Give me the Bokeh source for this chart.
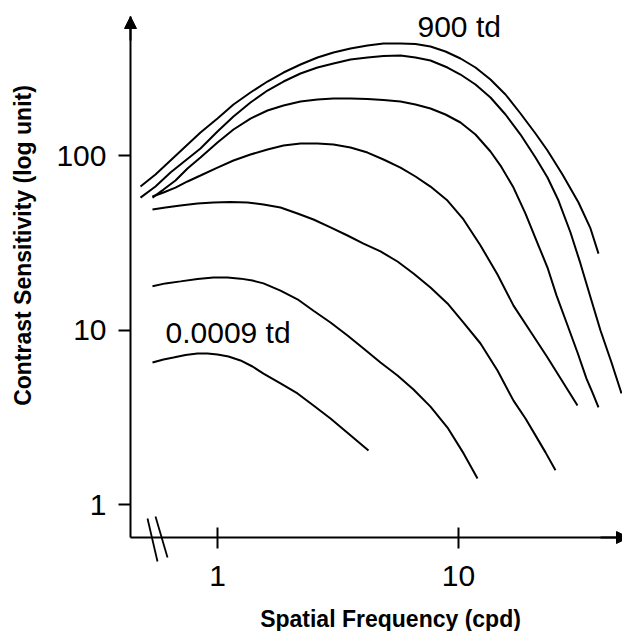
import math

from bokeh.embed import file_html
from bokeh.models import Arrow, FixedTicker, Label, NormalHead, PrintfTickFormatter, Range1d
from bokeh.plotting import figure
from bokeh.resources import INLINE

# Contrast sensitivity functions at several retinal illuminances (top curve 900 td,
# bottom curve 0.0009 td).  Spatial frequency in cycles/degree.
freq_a = [0.4792, 0.5530, 0.6383, 0.7365, 0.8501, 1.0, 1.1652, 1.3705, 1.6124, 1.8790,
          2.2103, 2.5998, 3.0293, 3.5640, 4.1925, 4.8848, 5.7459, 6.6306, 7.6520, 8.8319,
          10.193, 11.764, 13.575, 15.668, 18.082, 20.866, 23.405, 27.010, 31.471, 35.295, 38.098]
cs_a = [66.4, 77.8, 93.6, 112.6, 135.5, 162.9, 196.0, 229.7, 265.5, 299.0,
        332.3, 364.5, 389.2, 410.4, 427.0, 438.4, 438.4, 435.5, 421.4, 394.4,
        359.7, 319.4, 272.6, 223.7, 174.1, 133.7, 106.8, 77.8, 53.8, 38.2, 27.4]

freq_b = [0.4792, 0.5530, 0.6383, 0.7365, 0.8501, 1.0, 1.1652, 1.3705, 1.6124, 1.8790,
          2.2103, 2.5998, 3.0293, 3.5640, 4.1925, 4.8848, 5.7459, 6.6306, 7.6520, 9.0023,
          10.193, 11.764, 13.575, 15.668, 18.082, 20.866, 23.405, 25.997, 29.155, 32.078,
          35.295, 38.833, 43.140, 47.468]
cs_b = [57.4, 66.4, 79.9, 93.6, 109.7, 137.3, 167.3, 201.2, 235.8, 265.5,
        295.1, 319.4, 336.8, 355.0, 364.5, 371.7, 374.2, 364.5, 350.4, 319.4,
        291.2, 255.3, 215.0, 171.8, 131.9, 97.4, 74.8, 55.2, 36.2, 24.0,
        15.4, 9.93, 6.51, 4.33]

freq_c = [0.5374, 0.5970, 0.6695, 0.7508, 0.8501, 1.0, 1.1652, 1.3705, 1.6124, 1.8790,
          2.2103, 2.5998, 3.0293, 3.5640, 4.1925, 4.8848, 5.7459, 6.6306, 7.6520, 8.8319,
          10.193, 11.764, 13.575, 14.937, 16.914, 18.967, 21.473, 23.405, 25.505, 28.062,
          31.171, 33.971, 35.977, 38.098]
cs_c = [57.4, 63.8, 71.9, 84.2, 97.4, 118.7, 140.9, 162.9, 181.1, 193.4,
        203.9, 209.4, 212.2, 212.2, 210.8, 208.0, 203.9, 196.0, 186.0, 171.8,
        154.6, 131.9, 105.4, 87.6, 65.5, 46.5, 30.5, 22.8, 15.8, 11.04,
        7.43, 5.27, 4.38, 3.60]

freq_d = [0.5374, 0.5970, 0.6695, 0.7508, 0.8501, 1.0, 1.1652, 1.3705, 1.6124, 1.8790,
          2.2103, 2.5998, 3.0293, 3.5640, 4.1925, 4.8848, 5.7459, 6.6306, 7.6520, 9.0023,
          10.490, 12.340, 14.515, 16.914, 19.893, 23.405, 27.010, 31.171]
cs_d = [58.2, 61.4, 65.5, 71.0, 76.8, 85.3, 93.6, 101.3, 108.2, 114.1,
        117.2, 117.2, 115.6, 111.1, 104.0, 94.9, 85.3, 75.8, 66.4, 55.2,
        43.0, 30.5, 20.8, 13.8, 9.80, 6.96, 5.07, 3.69]

freq_e = [0.5374, 0.6085, 0.7023, 0.8260, 0.9625, 1.1322, 1.3318, 1.5519, 1.8259, 2.1478,
          2.5023, 2.9437, 3.4634, 4.0354, 4.7469, 5.5837, 6.5050, 7.6520, 9.0023, 10.490,
          12.340, 14.515, 16.914, 18.967, 20.866, 22.961, 25.262]
cs_e = [49.0, 50.4, 51.7, 53.1, 53.8, 54.1, 53.8, 52.4, 50.4, 46.5,
        43.0, 38.7, 34.8, 31.3, 28.2, 24.7, 21.1, 17.5, 14.2, 11.04,
        8.37, 5.86, 3.94, 3.11, 2.49, 1.99, 1.57]

freq_f = [0.5374, 0.6085, 0.7023, 0.8260, 0.9625, 1.1003, 1.2458, 1.3970, 1.5519, 1.8259,
          2.1478, 2.5023, 2.9437, 3.4634, 4.0354, 4.7469, 5.5837, 6.5050, 7.6520, 9.0023,
          10.390, 11.991]
cs_f = [17.8, 18.5, 19.0, 19.6, 20.0, 20.0, 19.7, 19.2, 18.5, 16.8,
        15.0, 12.9, 11.04, 9.30, 7.83, 6.51, 5.49, 4.56, 3.64, 2.76,
        2.01, 1.41]

freq_g = [0.5374, 0.5970, 0.6568, 0.7365, 0.8260, 0.9090, 1.0, 1.1108, 1.2458, 1.3970,
          1.5519, 1.8259, 2.1478, 2.5023, 2.9437, 3.5301, 4.2327]
cs_g = [6.51, 6.78, 6.96, 7.19, 7.33, 7.33, 7.24, 7.05, 6.69, 6.18,
        5.63, 4.94, 4.33, 3.69, 3.11, 2.52, 2.04]

curves = [
    (freq_a, cs_a), (freq_b, cs_b), (freq_c, cs_c), (freq_d, cs_d),
    (freq_e, cs_e), (freq_f, cs_f), (freq_g, cs_g),
]

x_ticks = [1, 10]
y_ticks = [1, 10, 100]
label_high = "900 td"
label_low = "0.0009 td"
x_title = "Spatial Frequency (cpd)"
y_title = "Contrast Sensitivity (log unit)"

# Canvas size; the plot frame fills the whole canvas and the axes sit at fixed
# positions inside it, so decorations around them are never clipped.
W, H = 622, 631
X_LO, X_HI = 0.1258, 47.92
Y_LO, Y_HI = 0.1872, 773.3
AXIS_X_PX, AXIS_Y_PX, AXIS_TOP_PX = 130, 537, 16
FONT = "Liberation Sans"


def px_x(px):
    """Canvas x pixel -> frequency on the log axis."""
    t = px / W
    return 10 ** (math.log10(X_LO) + t * (math.log10(X_HI) - math.log10(X_LO)))


def px_y(py):
    """Canvas y pixel -> sensitivity on the log axis."""
    t = (H - py) / H
    return 10 ** (math.log10(Y_LO) + t * (math.log10(Y_HI) - math.log10(Y_LO)))


p = figure(
    width=W, height=H,
    x_axis_type="log", y_axis_type="log",
    x_range=Range1d(X_LO, X_HI), y_range=Range1d(Y_LO, Y_HI),
    output_backend="svg", toolbar_location=None,
    min_border=0, min_border_left=0, min_border_right=0,
    min_border_top=0, min_border_bottom=0,
)
p.outline_line_color = None
p.grid.visible = False
p.background_fill_color = "white"
p.border_fill_color = "white"

for fx, cy in curves:
    p.line(fx, cy, line_color="black", line_width=2)

xax, yax = p.xaxis[0], p.yaxis[0]
xax.fixed_location = px_y(AXIS_Y_PX)
xax.bounds = (px_x(AXIS_X_PX), X_HI)
yax.fixed_location = px_x(AXIS_X_PX)
yax.bounds = (px_y(AXIS_Y_PX), px_y(AXIS_TOP_PX))

for ax in (xax, yax):
    ax.axis_line_width = 2
    ax.axis_line_color = "black"
    ax.major_tick_line_width = 2
    ax.major_tick_line_color = "black"
    ax.minor_tick_line_color = None
    ax.major_label_text_font = FONT
    ax.major_label_text_font_size = "30px"
    ax.major_label_text_color = "black"
    ax.formatter = PrintfTickFormatter(format="%d")

xax.ticker = FixedTicker(ticks=x_ticks, minor_ticks=[])
yax.ticker = FixedTicker(ticks=y_ticks, minor_ticks=[])
xax.major_tick_in = 10
xax.major_tick_out = 11
xax.major_label_standoff = 17
yax.major_tick_in = 0
yax.major_tick_out = 12
yax.major_label_standoff = 12

# Arrowheads at the ends of both axes
p.add_layout(Arrow(
    x_start=px_x(AXIS_X_PX), y_start=px_y(40), x_end=px_x(AXIS_X_PX), y_end=px_y(AXIS_TOP_PX),
    line_color="black", line_width=2,
    end=NormalHead(size=12, fill_color="black", line_color="black", line_width=1),
))
p.add_layout(Arrow(
    x_start=px_x(600), y_start=px_y(AXIS_Y_PX), x_end=px_x(628), y_end=px_y(AXIS_Y_PX),
    line_color="black", line_width=2,
    end=NormalHead(size=12, fill_color="black", line_color="black", line_width=1),
))

# Axis break marks on the frequency axis
for (x0, y0, x1, y1) in [(147, 518, 157, 561), (155, 516, 167, 557)]:
    p.add_layout(Arrow(
        x_start=px_x(x0), y_start=px_y(y0), x_end=px_x(x1), y_end=px_y(y1),
        line_color="black", line_width=1.8, end=None, start=None,
    ))

# Curve labels
p.add_layout(Label(x=px_x(417), y=px_y(26), text=label_high, text_font=FONT,
                   text_font_size="30px", text_color="black", text_baseline="alphabetic"))
p.add_layout(Label(x=px_x(165), y=px_y(332), text=label_low, text_font=FONT,
                   text_font_size="30px", text_color="black", text_baseline="alphabetic"))

# Axis titles
p.add_layout(Label(x=px_x(390), y=px_y(618), text=x_title, text_font=FONT,
                   text_font_size="23px", text_font_style="bold", text_color="black",
                   text_align="center", text_baseline="alphabetic"))
p.add_layout(Label(x=px_x(22), y=px_y(245), text=y_title, text_font=FONT,
                   text_font_size="23px", text_font_style="bold", text_color="black",
                   text_align="center", text_baseline="alphabetic", angle=math.pi / 2))

open("out.html", "w").write(file_html(p, INLINE))
